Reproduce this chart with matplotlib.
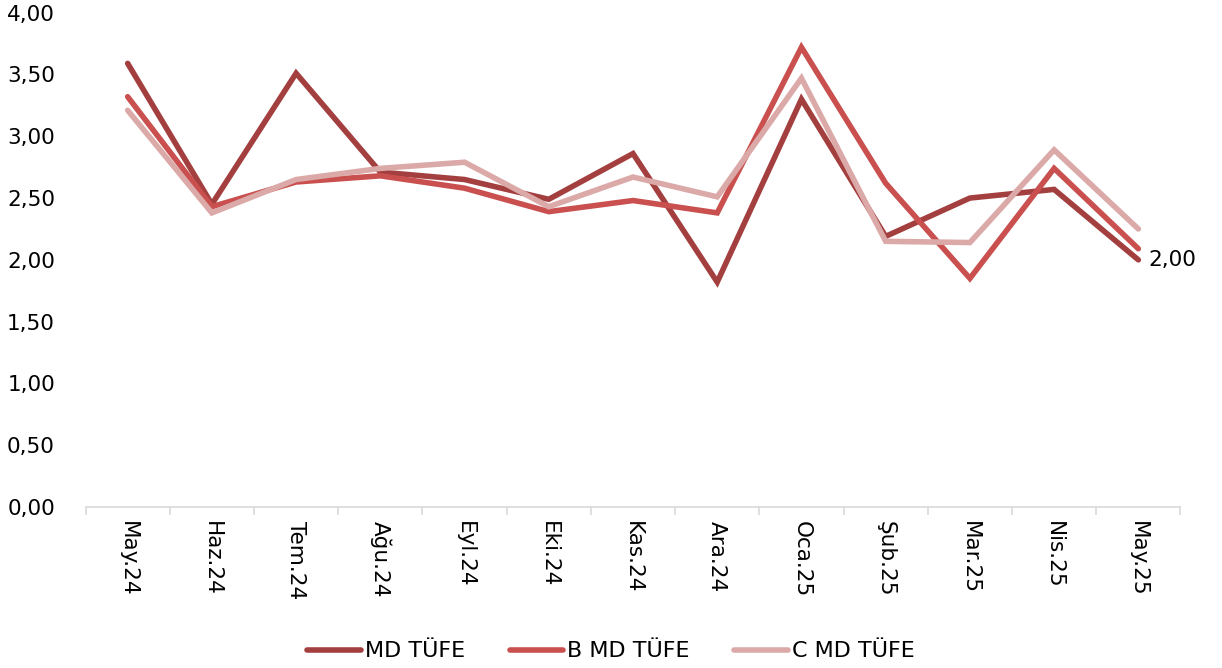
import matplotlib.pyplot as plt
from matplotlib.ticker import FuncFormatter

MONTHS = ["May.24", "Haz.24", "Tem.24", "Ağu.24", "Eyl.24", "Eki.24", "Kas.24",
          "Ara.24", "Oca.25", "Şub.25", "Mar.25", "Nis.25", "May.25"]

MD_TUFE = [3.59, 2.45, 3.51, 2.71, 2.65, 2.49, 2.86, 1.82, 3.30, 2.19, 2.50, 2.57, 2.00]
B_MD_TUFE = [3.32, 2.43, 2.63, 2.68, 2.58, 2.39, 2.48, 2.38, 3.72, 2.62, 1.85, 2.74, 2.09]
C_MD_TUFE = [3.21, 2.38, 2.65, 2.74, 2.79, 2.43, 2.67, 2.51, 3.47, 2.15, 2.14, 2.89, 2.25]

COLORS = ["#a33f3f", "#c9504f", "#dba9a8"]

plt.rcParams["font.family"] = ["DejaVu Sans"]

fig = plt.figure(figsize=(12.22, 6.68), dpi=100)
ax = fig.add_axes([0.070, 0.241, 0.896, 0.740])

x = list(range(len(MONTHS)))
series = [("MD TÜFE", MD_TUFE), ("B MD TÜFE", B_MD_TUFE), ("C MD TÜFE", C_MD_TUFE)]
for (name, vals), c in zip(series, COLORS):
    ax.plot(x, vals, color=c, lw=4, label=name, solid_capstyle="round",
            solid_joinstyle="miter")

ax.annotate(f"{MD_TUFE[-1]:.2f}".replace(".", ","), (x[-1], MD_TUFE[-1]),
            xytext=(7, 0), textcoords="offset points", va="center", ha="left",
            fontsize=15.5)

ax.set_xlim(-0.5, len(MONTHS) - 0.5)
ax.set_ylim(0, 4)
ax.set_yticks([i * 0.5 for i in range(9)])
ax.yaxis.set_major_formatter(FuncFormatter(lambda v, p: f"{v:.2f}".replace(".", ",")))

ax.set_xticks(x)
ax.set_xticklabels(MONTHS, rotation=270, fontsize=15.5)
ax.set_xticks([i - 0.5 for i in range(len(MONTHS) + 1)], minor=True)
ax.tick_params(axis="x", which="major", length=0, pad=10)
ax.tick_params(axis="x", which="minor", length=6, color="#d9d9d9", width=1.2)
ax.tick_params(axis="y", length=0, labelsize=15.5, pad=22)

for s in ["top", "right", "left"]:
    ax.spines[s].set_visible(False)
ax.spines["bottom"].set_color("#d9d9d9")
ax.spines["bottom"].set_linewidth(1.2)

leg = fig.legend(loc="lower center", bbox_to_anchor=(0.5, -0.02), ncol=3,
                 frameon=False, fontsize=16, handlelength=2.4, handletextpad=0.2,
                 columnspacing=2.0)

fig.savefig("out.png", dpi=100)
